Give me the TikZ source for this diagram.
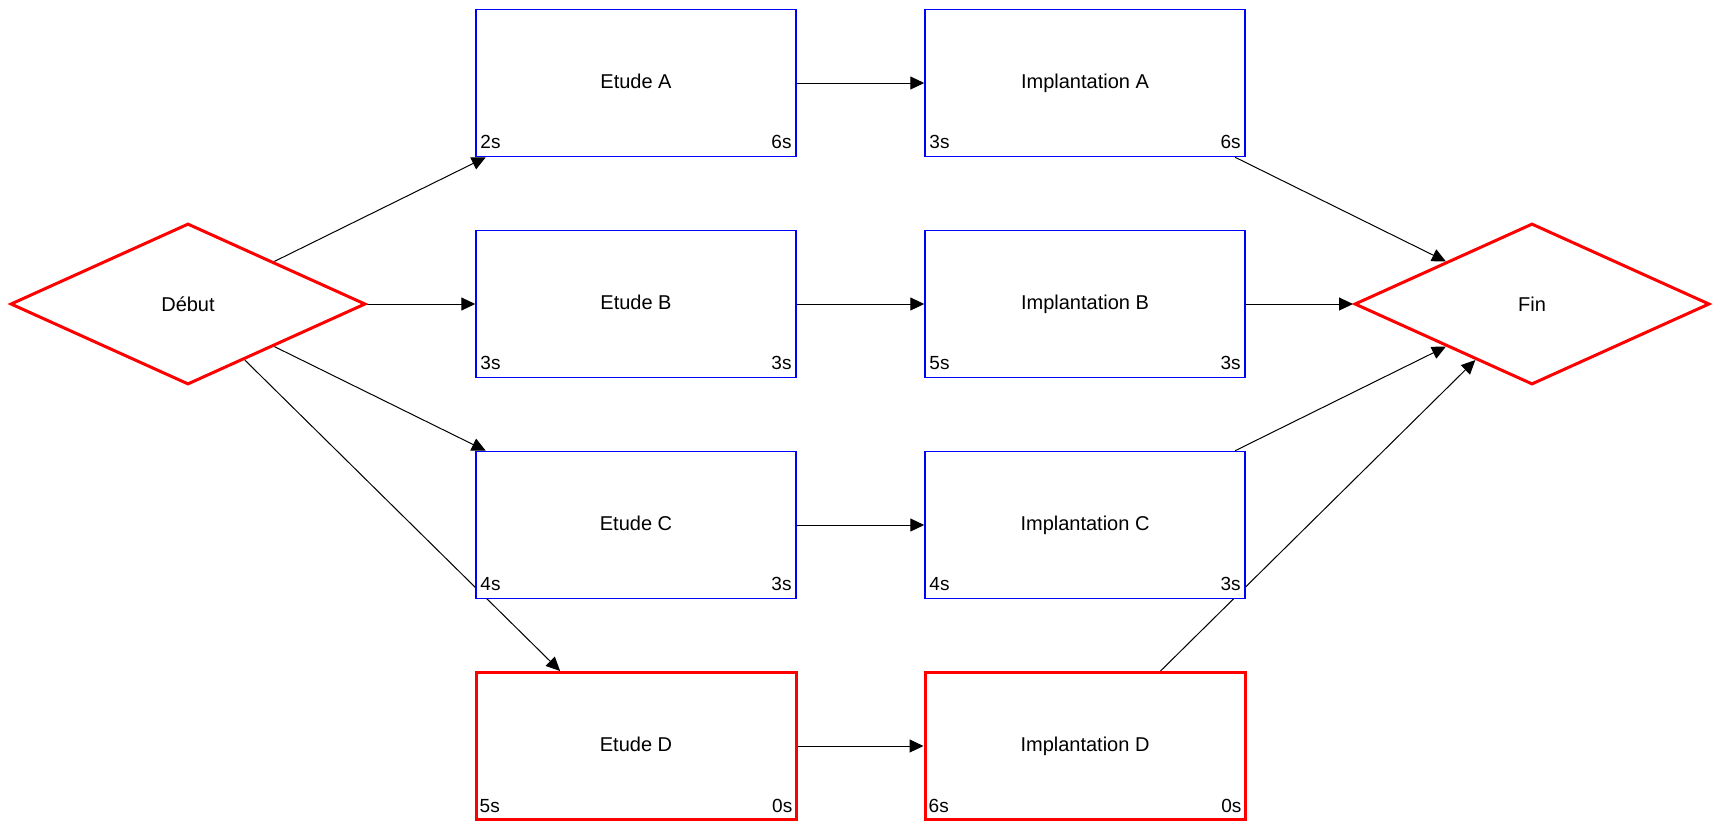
\documentclass[tikz,border=0pt]{standalone}
\usepackage{fontspec}
\setmainfont{Liberation Sans}
\usetikzlibrary{shapes.geometric,arrows.meta}
\pgfdeclarelayer{bglayer}
\pgfdeclarelayer{edgelayer}
\pgfsetlayers{bglayer,edgelayer,main}
\begin{document}
\begin{tikzpicture}[x=1pt,y=-1pt,
  every node/.style={font=\fontsize{20}{24}\selectfont},
  taskblue/.style={draw=blue,fill=white,line width=1.5pt,minimum width=320pt,minimum height=147pt,inner sep=0pt,rectangle,text height=15pt,text depth=4pt},
  taskred/.style={draw=red,fill=white,line width=3pt,minimum width=320pt,minimum height=147pt,inner sep=0pt,rectangle,text height=15pt,text depth=4pt},
  milestone/.style={draw=red,line width=3pt,diamond,minimum width=355pt,minimum height=161pt,inner sep=0pt},
  lbl/.style={inner sep=0pt,font=\fontsize{19}{22}\selectfont},
  conn/.style={draw=black,line width=1pt,-{Triangle[length=14pt,width=13pt]}}
]
\begin{pgfonlayer}{bglayer}
\fill[white] (0,0) rectangle (1715,820);
\end{pgfonlayer}
\useasboundingbox (0,0) rectangle (1715,820);

\node[milestone] (debut) at (188,304) {Début};
\node[milestone] (fin) at (1532,304) {Fin};

\node[taskblue] (ea) at (636,83) {Etude A};
\node[taskblue] (eb) at (636,304) {Etude B};
\node[taskblue] (ec) at (636,525) {Etude C};
\node[taskred]  (ed) at (636,746) {Etude D};
\node[taskblue] (ia) at (1085,83) {Implantation A};
\node[taskblue] (ib) at (1085,304) {Implantation B};
\node[taskblue] (ic) at (1085,525) {Implantation C};
\node[taskred]  (id) at (1085,746) {Implantation D};

\foreach \n/\l/\r in {ea/2s/6s, eb/3s/3s, ec/4s/3s, ed/5s/0s, ia/3s/6s, ib/5s/3s, ic/4s/3s, id/6s/0s}{
  \node[lbl,anchor=base west] (\n-l) at ([xshift=5pt,yshift=9pt]\n.south west) {\l};
  \node[lbl,anchor=base east] (\n-r) at ([xshift=-5pt,yshift=9pt]\n.south east) {\r};
}

\begin{pgfonlayer}{edgelayer}
\draw[conn] (debut) -- (ea);
\draw[conn] (debut) -- (eb);
\draw[conn] (debut) -- (ec);
\draw[conn] (debut) -- (ed);
\draw[conn] (ea) -- (ia);
\draw[conn] (eb) -- (ib);
\draw[conn] (ec) -- (ic);
\draw[conn] (ed) -- (id);
\draw[conn] (ia) -- (fin);
\draw[conn] (ib) -- (fin);
\draw[conn] (ic) -- (fin);
\draw[conn] (id) -- (fin);
\end{pgfonlayer}
\end{tikzpicture}
\end{document}
